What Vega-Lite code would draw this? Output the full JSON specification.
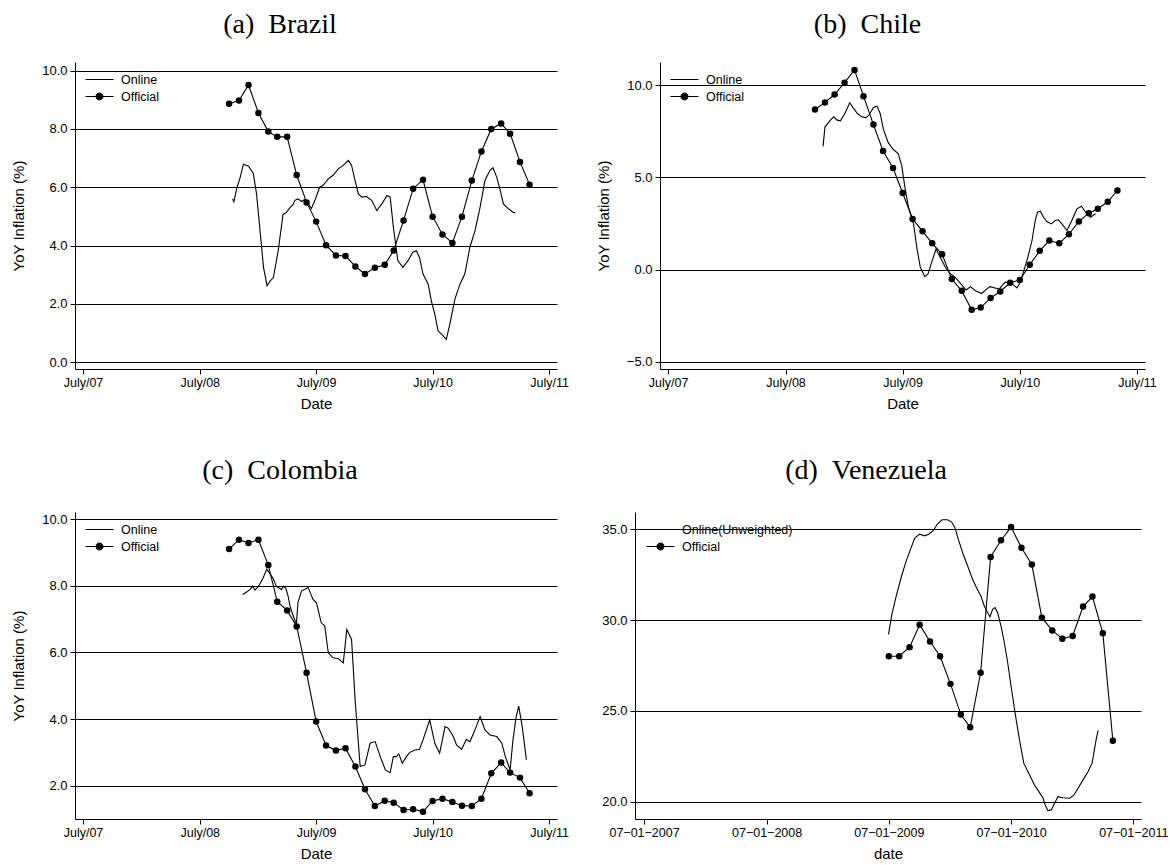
{
  "$schema": "https://vega.github.io/schema/vega-lite/v6.json",
  "background": "white",
  "padding": {"left": 11, "top": 11, "right": 0, "bottom": 0},
  "spacing": 45,
  "resolve": {"scale": {"shape": "independent", "stroke": "independent"}, "legend": {"shape": "independent", "stroke": "independent"}},
  "datasets": {
    "brazil": [
      {"date": "2008-10-01", "value": 8.87, "series": "Official"},
      {"date": "2008-11-01", "value": 8.98, "series": "Official"},
      {"date": "2008-12-01", "value": 9.51, "series": "Official"},
      {"date": "2009-01-01", "value": 8.55, "series": "Official"},
      {"date": "2009-02-01", "value": 7.91, "series": "Official"},
      {"date": "2009-03-01", "value": 7.73, "series": "Official"},
      {"date": "2009-04-01", "value": 7.73, "series": "Official"},
      {"date": "2009-05-01", "value": 6.42, "series": "Official"},
      {"date": "2009-06-01", "value": 5.48, "series": "Official"},
      {"date": "2009-07-01", "value": 4.82, "series": "Official"},
      {"date": "2009-08-01", "value": 4.01, "series": "Official"},
      {"date": "2009-09-01", "value": 3.66, "series": "Official"},
      {"date": "2009-10-01", "value": 3.64, "series": "Official"},
      {"date": "2009-11-01", "value": 3.28, "series": "Official"},
      {"date": "2009-12-01", "value": 3.02, "series": "Official"},
      {"date": "2010-01-01", "value": 3.24, "series": "Official"},
      {"date": "2010-02-01", "value": 3.34, "series": "Official"},
      {"date": "2010-03-01", "value": 3.83, "series": "Official"},
      {"date": "2010-04-01", "value": 4.86, "series": "Official"},
      {"date": "2010-05-01", "value": 5.95, "series": "Official"},
      {"date": "2010-06-01", "value": 6.26, "series": "Official"},
      {"date": "2010-07-01", "value": 4.99, "series": "Official"},
      {"date": "2010-08-01", "value": 4.38, "series": "Official"},
      {"date": "2010-09-01", "value": 4.09, "series": "Official"},
      {"date": "2010-10-01", "value": 4.99, "series": "Official"},
      {"date": "2010-11-01", "value": 6.23, "series": "Official"},
      {"date": "2010-12-01", "value": 7.23, "series": "Official"},
      {"date": "2011-01-01", "value": 8.00, "series": "Official"},
      {"date": "2011-02-01", "value": 8.19, "series": "Official"},
      {"date": "2011-03-01", "value": 7.84, "series": "Official"},
      {"date": "2011-04-01", "value": 6.87, "series": "Official"},
      {"date": "2011-05-01", "value": 6.09, "series": "Official"},
      {"date": "2008-10-12", "value": 5.60, "series": "Online"},
      {"date": "2008-10-16", "value": 5.50, "series": "Online"},
      {"date": "2008-10-25", "value": 5.95, "series": "Online"},
      {"date": "2008-11-05", "value": 6.35, "series": "Online"},
      {"date": "2008-11-15", "value": 6.79, "series": "Online"},
      {"date": "2008-12-01", "value": 6.72, "series": "Online"},
      {"date": "2008-12-16", "value": 6.47, "series": "Online"},
      {"date": "2008-12-26", "value": 5.78, "series": "Online"},
      {"date": "2009-01-07", "value": 4.40, "series": "Online"},
      {"date": "2009-01-17", "value": 3.25, "series": "Online"},
      {"date": "2009-01-28", "value": 2.62, "series": "Online"},
      {"date": "2009-02-07", "value": 2.79, "series": "Online"},
      {"date": "2009-02-17", "value": 2.90, "series": "Online"},
      {"date": "2009-03-04", "value": 3.82, "series": "Online"},
      {"date": "2009-03-19", "value": 5.06, "series": "Online"},
      {"date": "2009-03-29", "value": 5.13, "series": "Online"},
      {"date": "2009-04-10", "value": 5.30, "series": "Online"},
      {"date": "2009-04-20", "value": 5.41, "series": "Online"},
      {"date": "2009-04-25", "value": 5.55, "series": "Online"},
      {"date": "2009-05-05", "value": 5.60, "series": "Online"},
      {"date": "2009-05-16", "value": 5.51, "series": "Online"},
      {"date": "2009-05-26", "value": 5.58, "series": "Online"},
      {"date": "2009-06-06", "value": 5.44, "series": "Online"},
      {"date": "2009-06-16", "value": 5.27, "series": "Online"},
      {"date": "2009-06-27", "value": 5.55, "series": "Online"},
      {"date": "2009-07-12", "value": 6.00, "series": "Online"},
      {"date": "2009-07-22", "value": 6.06, "series": "Online"},
      {"date": "2009-08-08", "value": 6.29, "series": "Online"},
      {"date": "2009-08-23", "value": 6.41, "series": "Online"},
      {"date": "2009-09-09", "value": 6.64, "series": "Online"},
      {"date": "2009-09-24", "value": 6.75, "series": "Online"},
      {"date": "2009-10-10", "value": 6.92, "series": "Online"},
      {"date": "2009-10-20", "value": 6.75, "series": "Online"},
      {"date": "2009-10-31", "value": 6.23, "series": "Online"},
      {"date": "2009-11-10", "value": 5.78, "series": "Online"},
      {"date": "2009-11-21", "value": 5.66, "series": "Online"},
      {"date": "2009-12-06", "value": 5.68, "series": "Online"},
      {"date": "2009-12-22", "value": 5.55, "series": "Online"},
      {"date": "2010-01-07", "value": 5.20, "series": "Online"},
      {"date": "2010-01-23", "value": 5.43, "series": "Online"},
      {"date": "2010-02-08", "value": 5.72, "series": "Online"},
      {"date": "2010-02-18", "value": 5.66, "series": "Online"},
      {"date": "2010-02-28", "value": 4.63, "series": "Online"},
      {"date": "2010-03-14", "value": 3.48, "series": "Online"},
      {"date": "2010-03-30", "value": 3.25, "series": "Online"},
      {"date": "2010-04-15", "value": 3.48, "series": "Online"},
      {"date": "2010-04-30", "value": 3.77, "series": "Online"},
      {"date": "2010-05-11", "value": 3.82, "series": "Online"},
      {"date": "2010-05-21", "value": 3.59, "series": "Online"},
      {"date": "2010-06-01", "value": 3.02, "series": "Online"},
      {"date": "2010-06-17", "value": 2.68, "series": "Online"},
      {"date": "2010-06-27", "value": 2.10, "series": "Online"},
      {"date": "2010-07-08", "value": 1.64, "series": "Online"},
      {"date": "2010-07-18", "value": 1.07, "series": "Online"},
      {"date": "2010-08-03", "value": 0.90, "series": "Online"},
      {"date": "2010-08-13", "value": 0.78, "series": "Online"},
      {"date": "2010-08-24", "value": 1.30, "series": "Online"},
      {"date": "2010-09-09", "value": 2.16, "series": "Online"},
      {"date": "2010-09-25", "value": 2.68, "series": "Online"},
      {"date": "2010-10-10", "value": 3.02, "series": "Online"},
      {"date": "2010-10-26", "value": 3.94, "series": "Online"},
      {"date": "2010-11-11", "value": 4.51, "series": "Online"},
      {"date": "2010-11-27", "value": 5.32, "series": "Online"},
      {"date": "2010-12-12", "value": 6.23, "series": "Online"},
      {"date": "2010-12-28", "value": 6.58, "series": "Online"},
      {"date": "2011-01-06", "value": 6.67, "series": "Online"},
      {"date": "2011-01-18", "value": 6.35, "series": "Online"},
      {"date": "2011-01-29", "value": 5.89, "series": "Online"},
      {"date": "2011-02-08", "value": 5.43, "series": "Online"},
      {"date": "2011-02-24", "value": 5.26, "series": "Online"},
      {"date": "2011-03-10", "value": 5.14, "series": "Online"},
      {"date": "2011-03-17", "value": 5.12, "series": "Online"}
    ],
    "chile": [
      {"date": "2008-10-01", "value": 8.68, "series": "Official"},
      {"date": "2008-11-01", "value": 9.06, "series": "Official"},
      {"date": "2008-12-01", "value": 9.49, "series": "Official"},
      {"date": "2009-01-01", "value": 10.13, "series": "Official"},
      {"date": "2009-02-01", "value": 10.82, "series": "Official"},
      {"date": "2009-03-01", "value": 9.40, "series": "Official"},
      {"date": "2009-04-01", "value": 7.86, "series": "Official"},
      {"date": "2009-05-01", "value": 6.43, "series": "Official"},
      {"date": "2009-06-01", "value": 5.51, "series": "Official"},
      {"date": "2009-07-01", "value": 4.15, "series": "Official"},
      {"date": "2009-08-01", "value": 2.75, "series": "Official"},
      {"date": "2009-09-01", "value": 2.08, "series": "Official"},
      {"date": "2009-10-01", "value": 1.43, "series": "Official"},
      {"date": "2009-11-01", "value": 0.83, "series": "Official"},
      {"date": "2009-12-01", "value": -0.51, "series": "Official"},
      {"date": "2010-01-01", "value": -1.14, "series": "Official"},
      {"date": "2010-02-01", "value": -2.17, "series": "Official"},
      {"date": "2010-03-01", "value": -2.05, "series": "Official"},
      {"date": "2010-04-01", "value": -1.54, "series": "Official"},
      {"date": "2010-05-01", "value": -1.18, "series": "Official"},
      {"date": "2010-06-01", "value": -0.71, "series": "Official"},
      {"date": "2010-07-01", "value": -0.56, "series": "Official"},
      {"date": "2010-08-01", "value": 0.27, "series": "Official"},
      {"date": "2010-09-01", "value": 1.02, "series": "Official"},
      {"date": "2010-10-01", "value": 1.58, "series": "Official"},
      {"date": "2010-11-01", "value": 1.43, "series": "Official"},
      {"date": "2010-12-01", "value": 1.92, "series": "Official"},
      {"date": "2011-01-01", "value": 2.61, "series": "Official"},
      {"date": "2011-02-01", "value": 3.06, "series": "Official"},
      {"date": "2011-03-01", "value": 3.30, "series": "Official"},
      {"date": "2011-04-01", "value": 3.68, "series": "Official"},
      {"date": "2011-05-01", "value": 4.29, "series": "Official"},
      {"date": "2008-10-26", "value": 6.68, "series": "Online"},
      {"date": "2008-11-01", "value": 7.74, "series": "Online"},
      {"date": "2008-11-08", "value": 7.88, "series": "Online"},
      {"date": "2008-11-18", "value": 8.10, "series": "Online"},
      {"date": "2008-11-28", "value": 8.28, "series": "Online"},
      {"date": "2008-12-09", "value": 8.10, "series": "Online"},
      {"date": "2008-12-19", "value": 8.06, "series": "Online"},
      {"date": "2009-01-02", "value": 8.46, "series": "Online"},
      {"date": "2009-01-17", "value": 9.04, "series": "Online"},
      {"date": "2009-01-27", "value": 8.79, "series": "Online"},
      {"date": "2009-02-10", "value": 8.46, "series": "Online"},
      {"date": "2009-02-23", "value": 8.28, "series": "Online"},
      {"date": "2009-03-08", "value": 8.24, "series": "Online"},
      {"date": "2009-03-18", "value": 8.37, "series": "Online"},
      {"date": "2009-04-01", "value": 8.79, "series": "Online"},
      {"date": "2009-04-12", "value": 8.86, "series": "Online"},
      {"date": "2009-04-22", "value": 8.46, "series": "Online"},
      {"date": "2009-05-02", "value": 7.60, "series": "Online"},
      {"date": "2009-05-17", "value": 6.88, "series": "Online"},
      {"date": "2009-06-02", "value": 6.51, "series": "Online"},
      {"date": "2009-06-17", "value": 6.29, "series": "Online"},
      {"date": "2009-06-28", "value": 5.65, "series": "Online"},
      {"date": "2009-07-08", "value": 4.47, "series": "Online"},
      {"date": "2009-07-19", "value": 3.39, "series": "Online"},
      {"date": "2009-08-04", "value": 2.48, "series": "Online"},
      {"date": "2009-08-14", "value": 1.21, "series": "Online"},
      {"date": "2009-08-25", "value": 0.13, "series": "Online"},
      {"date": "2009-09-08", "value": -0.38, "series": "Online"},
      {"date": "2009-09-18", "value": -0.23, "series": "Online"},
      {"date": "2009-10-01", "value": 0.49, "series": "Online"},
      {"date": "2009-10-13", "value": 1.12, "series": "Online"},
      {"date": "2009-10-26", "value": 0.67, "series": "Online"},
      {"date": "2009-11-11", "value": 0.13, "series": "Online"},
      {"date": "2009-11-27", "value": -0.23, "series": "Online"},
      {"date": "2009-12-12", "value": -0.42, "series": "Online"},
      {"date": "2009-12-28", "value": -0.74, "series": "Online"},
      {"date": "2010-01-15", "value": -1.10, "series": "Online"},
      {"date": "2010-01-28", "value": -0.92, "series": "Online"},
      {"date": "2010-02-13", "value": -1.14, "series": "Online"},
      {"date": "2010-03-04", "value": -1.29, "series": "Online"},
      {"date": "2010-03-20", "value": -1.05, "series": "Online"},
      {"date": "2010-03-30", "value": -0.92, "series": "Online"},
      {"date": "2010-04-15", "value": -0.99, "series": "Online"},
      {"date": "2010-04-27", "value": -1.05, "series": "Online"},
      {"date": "2010-05-16", "value": -0.69, "series": "Online"},
      {"date": "2010-06-01", "value": -0.69, "series": "Online"},
      {"date": "2010-06-11", "value": -0.82, "series": "Online"},
      {"date": "2010-06-22", "value": -0.99, "series": "Online"},
      {"date": "2010-07-02", "value": -0.69, "series": "Online"},
      {"date": "2010-07-12", "value": -0.15, "series": "Online"},
      {"date": "2010-07-26", "value": 0.67, "series": "Online"},
      {"date": "2010-08-08", "value": 1.58, "series": "Online"},
      {"date": "2010-08-18", "value": 2.66, "series": "Online"},
      {"date": "2010-08-25", "value": 3.11, "series": "Online"},
      {"date": "2010-09-03", "value": 3.17, "series": "Online"},
      {"date": "2010-09-13", "value": 2.84, "series": "Online"},
      {"date": "2010-09-23", "value": 2.61, "series": "Online"},
      {"date": "2010-10-07", "value": 2.48, "series": "Online"},
      {"date": "2010-10-19", "value": 2.66, "series": "Online"},
      {"date": "2010-10-29", "value": 2.70, "series": "Online"},
      {"date": "2010-11-09", "value": 2.48, "series": "Online"},
      {"date": "2010-11-25", "value": 2.12, "series": "Online"},
      {"date": "2010-12-10", "value": 2.66, "series": "Online"},
      {"date": "2010-12-26", "value": 3.30, "series": "Online"},
      {"date": "2011-01-09", "value": 3.44, "series": "Online"},
      {"date": "2011-01-22", "value": 3.11, "series": "Online"},
      {"date": "2011-02-06", "value": 2.84, "series": "Online"},
      {"date": "2011-02-22", "value": 3.03, "series": "Online"}
    ],
    "colombia": [
      {"date": "2008-10-01", "value": 9.10, "series": "Official"},
      {"date": "2008-11-01", "value": 9.38, "series": "Official"},
      {"date": "2008-12-01", "value": 9.28, "series": "Official"},
      {"date": "2009-01-01", "value": 9.38, "series": "Official"},
      {"date": "2009-02-01", "value": 8.62, "series": "Official"},
      {"date": "2009-03-01", "value": 7.52, "series": "Official"},
      {"date": "2009-04-01", "value": 7.26, "series": "Official"},
      {"date": "2009-05-01", "value": 6.78, "series": "Official"},
      {"date": "2009-06-01", "value": 5.39, "series": "Official"},
      {"date": "2009-07-01", "value": 3.93, "series": "Official"},
      {"date": "2009-08-01", "value": 3.21, "series": "Official"},
      {"date": "2009-09-01", "value": 3.06, "series": "Official"},
      {"date": "2009-10-01", "value": 3.13, "series": "Official"},
      {"date": "2009-11-01", "value": 2.58, "series": "Official"},
      {"date": "2009-12-01", "value": 1.90, "series": "Official"},
      {"date": "2010-01-01", "value": 1.40, "series": "Official"},
      {"date": "2010-02-01", "value": 1.56, "series": "Official"},
      {"date": "2010-03-01", "value": 1.50, "series": "Official"},
      {"date": "2010-04-01", "value": 1.28, "series": "Official"},
      {"date": "2010-05-01", "value": 1.30, "series": "Official"},
      {"date": "2010-06-01", "value": 1.23, "series": "Official"},
      {"date": "2010-07-01", "value": 1.55, "series": "Official"},
      {"date": "2010-08-01", "value": 1.62, "series": "Official"},
      {"date": "2010-09-01", "value": 1.52, "series": "Official"},
      {"date": "2010-10-01", "value": 1.41, "series": "Official"},
      {"date": "2010-11-01", "value": 1.40, "series": "Official"},
      {"date": "2010-12-01", "value": 1.62, "series": "Official"},
      {"date": "2011-01-01", "value": 2.38, "series": "Official"},
      {"date": "2011-02-01", "value": 2.70, "series": "Official"},
      {"date": "2011-03-01", "value": 2.40, "series": "Official"},
      {"date": "2011-04-01", "value": 2.25, "series": "Official"},
      {"date": "2011-05-01", "value": 1.78, "series": "Official"},
      {"date": "2008-11-13", "value": 7.74, "series": "Online"},
      {"date": "2008-11-25", "value": 7.81, "series": "Online"},
      {"date": "2008-12-06", "value": 7.89, "series": "Online"},
      {"date": "2008-12-14", "value": 7.99, "series": "Online"},
      {"date": "2008-12-21", "value": 7.87, "series": "Online"},
      {"date": "2009-01-01", "value": 7.98, "series": "Online"},
      {"date": "2009-01-15", "value": 8.22, "series": "Online"},
      {"date": "2009-01-27", "value": 8.50, "series": "Online"},
      {"date": "2009-02-07", "value": 8.35, "series": "Online"},
      {"date": "2009-02-17", "value": 8.20, "series": "Online"},
      {"date": "2009-02-26", "value": 7.98, "series": "Online"},
      {"date": "2009-03-04", "value": 7.95, "series": "Online"},
      {"date": "2009-03-14", "value": 7.89, "series": "Online"},
      {"date": "2009-03-21", "value": 7.98, "series": "Online"},
      {"date": "2009-03-28", "value": 7.92, "series": "Online"},
      {"date": "2009-04-04", "value": 7.69, "series": "Online"},
      {"date": "2009-04-10", "value": 7.39, "series": "Online"},
      {"date": "2009-04-20", "value": 7.10, "series": "Online"},
      {"date": "2009-04-30", "value": 6.85, "series": "Online"},
      {"date": "2009-05-05", "value": 7.50, "series": "Online"},
      {"date": "2009-05-16", "value": 7.84, "series": "Online"},
      {"date": "2009-06-06", "value": 7.95, "series": "Online"},
      {"date": "2009-06-21", "value": 7.59, "series": "Online"},
      {"date": "2009-07-02", "value": 7.49, "series": "Online"},
      {"date": "2009-07-17", "value": 6.89, "series": "Online"},
      {"date": "2009-07-28", "value": 6.79, "series": "Online"},
      {"date": "2009-08-08", "value": 5.99, "series": "Online"},
      {"date": "2009-08-23", "value": 5.84, "series": "Online"},
      {"date": "2009-09-09", "value": 5.81, "series": "Online"},
      {"date": "2009-09-24", "value": 5.69, "series": "Online"},
      {"date": "2009-10-05", "value": 6.69, "series": "Online"},
      {"date": "2009-10-20", "value": 6.39, "series": "Online"},
      {"date": "2009-10-31", "value": 4.59, "series": "Online"},
      {"date": "2009-11-16", "value": 2.58, "series": "Online"},
      {"date": "2009-12-01", "value": 2.63, "series": "Online"},
      {"date": "2009-12-17", "value": 3.28, "series": "Online"},
      {"date": "2010-01-02", "value": 3.33, "series": "Online"},
      {"date": "2010-01-18", "value": 2.88, "series": "Online"},
      {"date": "2010-02-03", "value": 2.48, "series": "Online"},
      {"date": "2010-02-18", "value": 2.40, "series": "Online"},
      {"date": "2010-02-28", "value": 2.88, "series": "Online"},
      {"date": "2010-03-09", "value": 2.88, "series": "Online"},
      {"date": "2010-03-17", "value": 2.96, "series": "Online"},
      {"date": "2010-03-28", "value": 2.68, "series": "Online"},
      {"date": "2010-04-10", "value": 2.88, "series": "Online"},
      {"date": "2010-04-20", "value": 3.00, "series": "Online"},
      {"date": "2010-05-06", "value": 3.08, "series": "Online"},
      {"date": "2010-05-21", "value": 3.10, "series": "Online"},
      {"date": "2010-06-01", "value": 3.38, "series": "Online"},
      {"date": "2010-06-22", "value": 3.98, "series": "Online"},
      {"date": "2010-07-08", "value": 3.28, "series": "Online"},
      {"date": "2010-07-23", "value": 2.98, "series": "Online"},
      {"date": "2010-08-09", "value": 3.78, "series": "Online"},
      {"date": "2010-08-19", "value": 3.73, "series": "Online"},
      {"date": "2010-09-04", "value": 3.48, "series": "Online"},
      {"date": "2010-09-14", "value": 3.23, "series": "Online"},
      {"date": "2010-09-30", "value": 3.10, "series": "Online"},
      {"date": "2010-10-15", "value": 3.40, "series": "Online"},
      {"date": "2010-10-26", "value": 3.33, "series": "Online"},
      {"date": "2010-11-11", "value": 3.68, "series": "Online"},
      {"date": "2010-11-27", "value": 4.08, "series": "Online"},
      {"date": "2010-12-12", "value": 3.68, "series": "Online"},
      {"date": "2010-12-28", "value": 3.53, "series": "Online"},
      {"date": "2011-01-18", "value": 3.48, "series": "Online"},
      {"date": "2011-02-03", "value": 3.28, "series": "Online"},
      {"date": "2011-02-14", "value": 2.88, "series": "Online"},
      {"date": "2011-03-01", "value": 2.48, "series": "Online"},
      {"date": "2011-03-10", "value": 3.38, "series": "Online"},
      {"date": "2011-03-20", "value": 4.08, "series": "Online"},
      {"date": "2011-03-28", "value": 4.39, "series": "Online"},
      {"date": "2011-04-08", "value": 3.78, "series": "Online"},
      {"date": "2011-04-21", "value": 2.78, "series": "Online"}
    ],
    "venezuela": [
      {"date": "2009-07-01", "value": 28.01, "series": "Official"},
      {"date": "2009-08-01", "value": 28.01, "series": "Official"},
      {"date": "2009-09-01", "value": 28.51, "series": "Official"},
      {"date": "2009-10-01", "value": 29.74, "series": "Official"},
      {"date": "2009-11-01", "value": 28.82, "series": "Official"},
      {"date": "2009-12-01", "value": 28.01, "series": "Official"},
      {"date": "2010-01-01", "value": 26.49, "series": "Official"},
      {"date": "2010-02-01", "value": 24.80, "series": "Official"},
      {"date": "2010-03-01", "value": 24.10, "series": "Official"},
      {"date": "2010-04-01", "value": 27.10, "series": "Official"},
      {"date": "2010-05-01", "value": 33.47, "series": "Official"},
      {"date": "2010-06-01", "value": 34.39, "series": "Official"},
      {"date": "2010-07-01", "value": 35.11, "series": "Official"},
      {"date": "2010-08-01", "value": 33.97, "series": "Official"},
      {"date": "2010-09-01", "value": 33.05, "series": "Official"},
      {"date": "2010-10-01", "value": 30.13, "series": "Official"},
      {"date": "2010-11-01", "value": 29.43, "series": "Official"},
      {"date": "2010-12-01", "value": 28.97, "series": "Official"},
      {"date": "2011-01-01", "value": 29.12, "series": "Official"},
      {"date": "2011-02-01", "value": 30.74, "series": "Official"},
      {"date": "2011-03-01", "value": 31.29, "series": "Official"},
      {"date": "2011-04-01", "value": 29.28, "series": "Official"},
      {"date": "2011-05-01", "value": 23.36, "series": "Official"},
      {"date": "2009-06-30", "value": 29.21, "series": "Online(Unweighted)"},
      {"date": "2009-07-10", "value": 30.31, "series": "Online(Unweighted)"},
      {"date": "2009-07-23", "value": 31.32, "series": "Online(Unweighted)"},
      {"date": "2009-08-08", "value": 32.42, "series": "Online(Unweighted)"},
      {"date": "2009-08-22", "value": 33.25, "series": "Online(Unweighted)"},
      {"date": "2009-09-04", "value": 33.90, "series": "Online(Unweighted)"},
      {"date": "2009-09-16", "value": 34.49, "series": "Online(Unweighted)"},
      {"date": "2009-10-01", "value": 34.72, "series": "Online(Unweighted)"},
      {"date": "2009-10-16", "value": 34.63, "series": "Online(Unweighted)"},
      {"date": "2009-10-28", "value": 34.72, "series": "Online(Unweighted)"},
      {"date": "2009-11-10", "value": 34.91, "series": "Online(Unweighted)"},
      {"date": "2009-11-23", "value": 35.28, "series": "Online(Unweighted)"},
      {"date": "2009-12-07", "value": 35.51, "series": "Online(Unweighted)"},
      {"date": "2009-12-23", "value": 35.51, "series": "Online(Unweighted)"},
      {"date": "2010-01-04", "value": 35.40, "series": "Online(Unweighted)"},
      {"date": "2010-01-14", "value": 35.09, "series": "Online(Unweighted)"},
      {"date": "2010-01-26", "value": 34.35, "series": "Online(Unweighted)"},
      {"date": "2010-02-08", "value": 33.62, "series": "Online(Unweighted)"},
      {"date": "2010-02-23", "value": 32.89, "series": "Online(Unweighted)"},
      {"date": "2010-03-08", "value": 32.24, "series": "Online(Unweighted)"},
      {"date": "2010-03-21", "value": 31.73, "series": "Online(Unweighted)"},
      {"date": "2010-04-02", "value": 31.32, "series": "Online(Unweighted)"},
      {"date": "2010-04-12", "value": 30.77, "series": "Online(Unweighted)"},
      {"date": "2010-04-22", "value": 30.40, "series": "Online(Unweighted)"},
      {"date": "2010-04-29", "value": 30.18, "series": "Online(Unweighted)"},
      {"date": "2010-05-07", "value": 30.59, "series": "Online(Unweighted)"},
      {"date": "2010-05-14", "value": 30.68, "series": "Online(Unweighted)"},
      {"date": "2010-05-22", "value": 30.40, "series": "Online(Unweighted)"},
      {"date": "2010-06-01", "value": 29.67, "series": "Online(Unweighted)"},
      {"date": "2010-06-11", "value": 28.75, "series": "Online(Unweighted)"},
      {"date": "2010-06-21", "value": 27.65, "series": "Online(Unweighted)"},
      {"date": "2010-07-01", "value": 26.36, "series": "Online(Unweighted)"},
      {"date": "2010-07-13", "value": 24.89, "series": "Online(Unweighted)"},
      {"date": "2010-07-26", "value": 23.42, "series": "Online(Unweighted)"},
      {"date": "2010-08-08", "value": 22.13, "series": "Online(Unweighted)"},
      {"date": "2010-08-25", "value": 21.49, "series": "Online(Unweighted)"},
      {"date": "2010-09-09", "value": 20.93, "series": "Online(Unweighted)"},
      {"date": "2010-09-24", "value": 20.51, "series": "Online(Unweighted)"},
      {"date": "2010-10-04", "value": 20.23, "series": "Online(Unweighted)"},
      {"date": "2010-10-11", "value": 19.83, "series": "Online(Unweighted)"},
      {"date": "2010-10-19", "value": 19.52, "series": "Online(Unweighted)"},
      {"date": "2010-10-29", "value": 19.56, "series": "Online(Unweighted)"},
      {"date": "2010-11-08", "value": 19.93, "series": "Online(Unweighted)"},
      {"date": "2010-11-18", "value": 20.29, "series": "Online(Unweighted)"},
      {"date": "2010-12-03", "value": 20.23, "series": "Online(Unweighted)"},
      {"date": "2010-12-23", "value": 20.20, "series": "Online(Unweighted)"},
      {"date": "2011-01-05", "value": 20.38, "series": "Online(Unweighted)"},
      {"date": "2011-01-17", "value": 20.75, "series": "Online(Unweighted)"},
      {"date": "2011-02-01", "value": 21.21, "series": "Online(Unweighted)"},
      {"date": "2011-02-16", "value": 21.67, "series": "Online(Unweighted)"},
      {"date": "2011-02-28", "value": 22.13, "series": "Online(Unweighted)"},
      {"date": "2011-03-06", "value": 22.77, "series": "Online(Unweighted)"},
      {"date": "2011-03-12", "value": 23.42, "series": "Online(Unweighted)"},
      {"date": "2011-03-18", "value": 23.93, "series": "Online(Unweighted)"}
    ]
  },
  "vconcat": [
    {
      "spacing": 27,
      "resolve": {"scale": {"shape": "independent", "stroke": "independent"}, "legend": {"shape": "independent", "stroke": "independent"}},
      "hconcat": [
        {
          "width": 482, "height": 307,
          "title": {"text": "(a)\u00a0\u00a0Brazil", "frame": "group", "dx": -36, "offset": 23},
          "data": {"name": "brazil"},
          "encoding": {
            "x": {"field": "date", "type": "temporal", "title": "Date",
              "scale": {"domain": [{"year": 2007, "month": 6, "date": 6}, {"year": 2011, "month": 7, "date": 26}]},
              "axis": {"format": "%B/%y", "values": [{"year": 2007, "month": 7, "date": 1}, {"year": 2008, "month": 7, "date": 1}, {"year": 2009, "month": 7, "date": 1}, {"year": 2010, "month": 7, "date": 1}, {"year": 2011, "month": 7, "date": 1}]}},
            "y": {"field": "value", "type": "quantitative", "title": "YoY Inflation (%)",
              "scale": {"domain": [-0.24, 10.3], "nice": false, "zero": false},
              "axis": {"values": [0, 2, 4, 6, 8, 10], "format": ".1f"}}
          },
          "layer": [
            {"mark": {"type": "line", "strokeWidth": 1.1, "color": "black"}, "encoding": {"detail": {"field": "series"}}},
            {"transform": [{"filter": "datum.series === 'Official'"}], "mark": {"type": "point", "filled": true, "size": 42, "opacity": 1, "color": "black"}},
            {"mark": {"type": "point", "filled": true, "opacity": 0, "color": "black", "strokeWidth": 1},
             "encoding": {
               "shape": {"field": "series", "type": "nominal",
                 "scale": {"domain": ["Online", "Official"], "range": ["M-1,0H2.5", "M-1,0H2.5M1.1875,0A0.4375,0.4375,0,1,1,0.3125,0A0.4375,0.4375,0,1,1,1.1875,0Z"]},
                 "legend": {"orient": "none", "legendX": 10, "legendY": 9, "title": null, "symbolOpacity": 1}},
               "stroke": {"field": "series", "type": "nominal",
                 "scale": {"domain": ["Online", "Official"], "range": ["black", "black"]},
                 "legend": {"orient": "none", "legendX": 10, "legendY": 9, "title": null, "symbolOpacity": 1}}}}
          ]
        },
        {
          "width": 485, "height": 307,
          "title": {"text": "(b)\u00a0\u00a0Chile", "frame": "group", "dx": -35, "offset": 23},
          "data": {"name": "chile"},
          "encoding": {
            "x": {"field": "date", "type": "temporal", "title": "Date",
              "scale": {"domain": [{"year": 2007, "month": 6, "date": 6}, {"year": 2011, "month": 7, "date": 26}]},
              "axis": {"format": "%B/%y", "values": [{"year": 2007, "month": 7, "date": 1}, {"year": 2008, "month": 7, "date": 1}, {"year": 2009, "month": 7, "date": 1}, {"year": 2010, "month": 7, "date": 1}, {"year": 2011, "month": 7, "date": 1}]}},
            "y": {"field": "value", "type": "quantitative", "title": "YoY Inflation (%)",
              "scale": {"domain": [-5.38, 11.25], "nice": false, "zero": false},
              "axis": {"values": [-5, 0, 5, 10], "format": ".1f"}}
          },
          "layer": [
            {"mark": {"type": "line", "strokeWidth": 1.1, "color": "black"}, "encoding": {"detail": {"field": "series"}}},
            {"transform": [{"filter": "datum.series === 'Official'"}], "mark": {"type": "point", "filled": true, "size": 42, "opacity": 1, "color": "black"}},
            {"mark": {"type": "point", "filled": true, "opacity": 0, "color": "black", "strokeWidth": 1},
             "encoding": {
               "shape": {"field": "series", "type": "nominal",
                 "scale": {"domain": ["Online", "Official"], "range": ["M-1,0H2.5", "M-1,0H2.5M1.1875,0A0.4375,0.4375,0,1,1,0.3125,0A0.4375,0.4375,0,1,1,1.1875,0Z"]},
                 "legend": {"orient": "none", "legendX": 10, "legendY": 9, "title": null, "symbolOpacity": 1}},
               "stroke": {"field": "series", "type": "nominal",
                 "scale": {"domain": ["Online", "Official"], "range": ["black", "black"]},
                 "legend": {"orient": "none", "legendX": 10, "legendY": 9, "title": null, "symbolOpacity": 1}}}}
          ]
        }
      ]
    },
    {
      "spacing": 32,
      "resolve": {"scale": {"shape": "independent", "stroke": "independent"}, "legend": {"shape": "independent", "stroke": "independent"}},
      "hconcat": [
        {
          "width": 482, "height": 307,
          "title": {"text": "(c)\u00a0\u00a0Colombia", "frame": "group", "dx": -36, "offset": 27},
          "data": {"name": "colombia"},
          "encoding": {
            "x": {"field": "date", "type": "temporal", "title": "Date",
              "scale": {"domain": [{"year": 2007, "month": 6, "date": 6}, {"year": 2011, "month": 7, "date": 26}]},
              "axis": {"format": "%B/%y", "values": [{"year": 2007, "month": 7, "date": 1}, {"year": 2008, "month": 7, "date": 1}, {"year": 2009, "month": 7, "date": 1}, {"year": 2010, "month": 7, "date": 1}, {"year": 2011, "month": 7, "date": 1}]}},
            "y": {"field": "value", "type": "quantitative", "title": "YoY Inflation (%)",
              "scale": {"domain": [1.01, 10.21], "nice": false, "zero": false},
              "axis": {"values": [2, 4, 6, 8, 10], "format": ".1f"}}
          },
          "layer": [
            {"mark": {"type": "line", "strokeWidth": 1.1, "color": "black"}, "encoding": {"detail": {"field": "series"}}},
            {"transform": [{"filter": "datum.series === 'Official'"}], "mark": {"type": "point", "filled": true, "size": 42, "opacity": 1, "color": "black"}},
            {"mark": {"type": "point", "filled": true, "opacity": 0, "color": "black", "strokeWidth": 1},
             "encoding": {
               "shape": {"field": "series", "type": "nominal",
                 "scale": {"domain": ["Online", "Official"], "range": ["M-1,0H2.5", "M-1,0H2.5M1.1875,0A0.4375,0.4375,0,1,1,0.3125,0A0.4375,0.4375,0,1,1,1.1875,0Z"]},
                 "legend": {"orient": "none", "legendX": 10, "legendY": 9, "title": null, "symbolOpacity": 1}},
               "stroke": {"field": "series", "type": "nominal",
                 "scale": {"domain": ["Online", "Official"], "range": ["black", "black"]},
                 "legend": {"orient": "none", "legendX": 10, "legendY": 9, "title": null, "symbolOpacity": 1}}}}
          ]
        },
        {
          "width": 506, "height": 307,
          "title": {"text": "(d)\u00a0\u00a0Venezuela", "frame": "group", "dx": -22, "offset": 27},
          "data": {"name": "venezuela"},
          "encoding": {
            "x": {"field": "date", "type": "temporal", "title": "date",
              "scale": {"domain": [{"year": 2007, "month": 6, "date": 4}, {"year": 2011, "month": 7, "date": 24}]},
              "axis": {"format": "%m\u2212%d\u2212%Y", "values": [{"year": 2007, "month": 7, "date": 1}, {"year": 2008, "month": 7, "date": 1}, {"year": 2009, "month": 7, "date": 1}, {"year": 2010, "month": 7, "date": 1}, {"year": 2011, "month": 7, "date": 1}]}},
            "y": {"field": "value", "type": "quantitative", "title": null,
              "scale": {"domain": [19.06, 35.94], "nice": false, "zero": false},
              "axis": {"values": [20, 25, 30, 35], "format": ".1f"}}
          },
          "layer": [
            {"mark": {"type": "line", "strokeWidth": 1.1, "color": "black"}, "encoding": {"detail": {"field": "series"}}},
            {"transform": [{"filter": "datum.series === 'Official'"}], "mark": {"type": "point", "filled": true, "size": 42, "opacity": 1, "color": "black"}},
            {"mark": {"type": "point", "filled": true, "opacity": 0, "color": "black", "strokeWidth": 1},
             "encoding": {
               "shape": {"field": "series", "type": "nominal",
                 "scale": {"domain": ["Online(Unweighted)", "Official"], "range": ["M-1,0H2.5", "M-1,0H2.5M1.1875,0A0.4375,0.4375,0,1,1,0.3125,0A0.4375,0.4375,0,1,1,1.1875,0Z"]},
                 "legend": {"orient": "none", "legendX": 11, "legendY": 9, "title": null, "symbolOpacity": 1}},
               "stroke": {"field": "series", "type": "nominal",
                 "scale": {"domain": ["Online(Unweighted)", "Official"], "range": ["black", "black"]},
                 "legend": {"orient": "none", "legendX": 11, "legendY": 9, "title": null, "symbolOpacity": 1}}}}
          ]
        }
      ]
    }
  ],
  "config": {
    "view": {"stroke": null},
    "axis": {"labelFont": "Liberation Sans", "titleFont": "Liberation Sans", "labelFontSize": 12.5, "titleFontSize": 15, "titleFontWeight": "normal", "labelColor": "black", "titleColor": "black", "domainColor": "black", "tickColor": "black", "gridColor": "black", "gridOpacity": 1, "gridWidth": 1, "domainWidth": 1, "tickWidth": 1, "tickSize": 5},
    "axisX": {"grid": false, "labelPadding": 2, "titlePadding": 8},
    "axisY": {"grid": true, "labelPadding": 3, "titlePadding": 15, "labelFontSize": 13},
    "title": {"font": "Liberation Serif", "fontSize": 28, "fontWeight": "normal", "color": "black", "anchor": "middle"},
    "legend": {"symbolSize": 256, "symbolStrokeWidth": 1, "labelFont": "Liberation Sans", "labelFontSize": 12.5, "labelColor": "black", "labelOffset": 19, "rowPadding": 2, "padding": 0}
  }
}
